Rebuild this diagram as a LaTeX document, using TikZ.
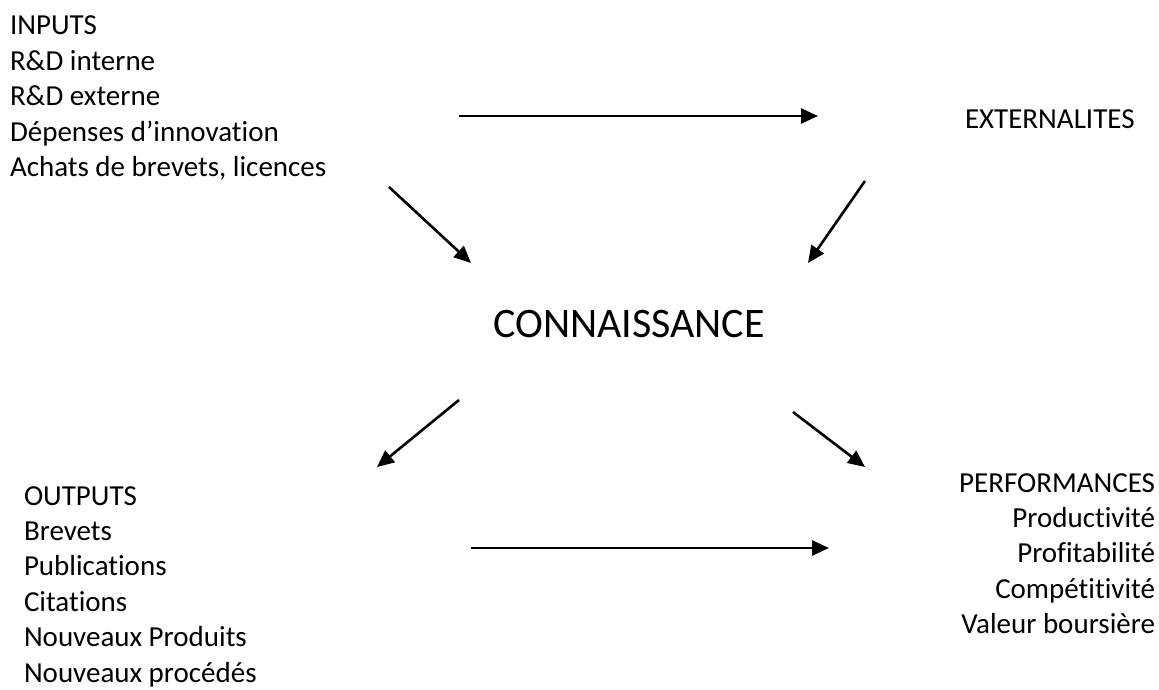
\documentclass[tikz,border=0pt]{standalone}
\usepackage{fontspec}
\setmainfont[Ligatures=NoCommon]{Carlito}
\usetikzlibrary{arrows.meta}
\begin{document}
\begin{tikzpicture}[x=1pt,y=-1pt,
  txt/.style={inner sep=0pt,outer sep=0pt,font=\fontsize{29}{35.4}\selectfont},
  arr/.style={line width=2.6pt,-{Triangle[length=17pt,width=15pt]}}]
\useasboundingbox (0,0) rectangle (1159,690);
% anchor "base" of a multi-line node = baseline of its last line
\node[txt,anchor=base west,align=left] (inputs) at (10,176.6)
  {INPUTS\\R\&D interne\\R\&D externe\\Dépenses d’innovation\\Achats de brevets, licences};
\node[txt,anchor=base west] (ext) at (965,129) {EXTERNALITES};
\node[inner sep=0pt,font=\fontsize{42}{50}\selectfont,anchor=base] (conn) at (629,337) {CONNAISSANCE};
\node[txt,anchor=base west,align=left] (outputs) at (24,682)
  {OUTPUTS\\Brevets\\Publications\\Citations\\Nouveaux Produits\\Nouveaux procédés};
\node[txt,anchor=base east,align=right] (perf) at (1155,633.6)
  {PERFORMANCES\\Productivité\\Profitabilité\\Compétitivité\\Valeur boursière};
% arrow end points
\coordinate (a1) at (459,116); \coordinate (b1) at (818,116);
\coordinate (a2) at (389,187); \coordinate (b2) at (471,263);
\coordinate (a3) at (865,181); \coordinate (b3) at (808,263);
\coordinate (a4) at (459,400); \coordinate (b4) at (377,467);
\coordinate (a5) at (793,412); \coordinate (b5) at (865,467);
\coordinate (a6) at (471,548); \coordinate (b6) at (829,548);
\draw[arr] (a1) -- (b1);
\draw[arr] (a2) -- (b2);
\draw[arr] (a3) -- (b3);
\draw[arr] (a4) -- (b4);
\draw[arr] (a5) -- (b5);
\draw[arr] (a6) -- (b6);
\end{tikzpicture}
\end{document}
